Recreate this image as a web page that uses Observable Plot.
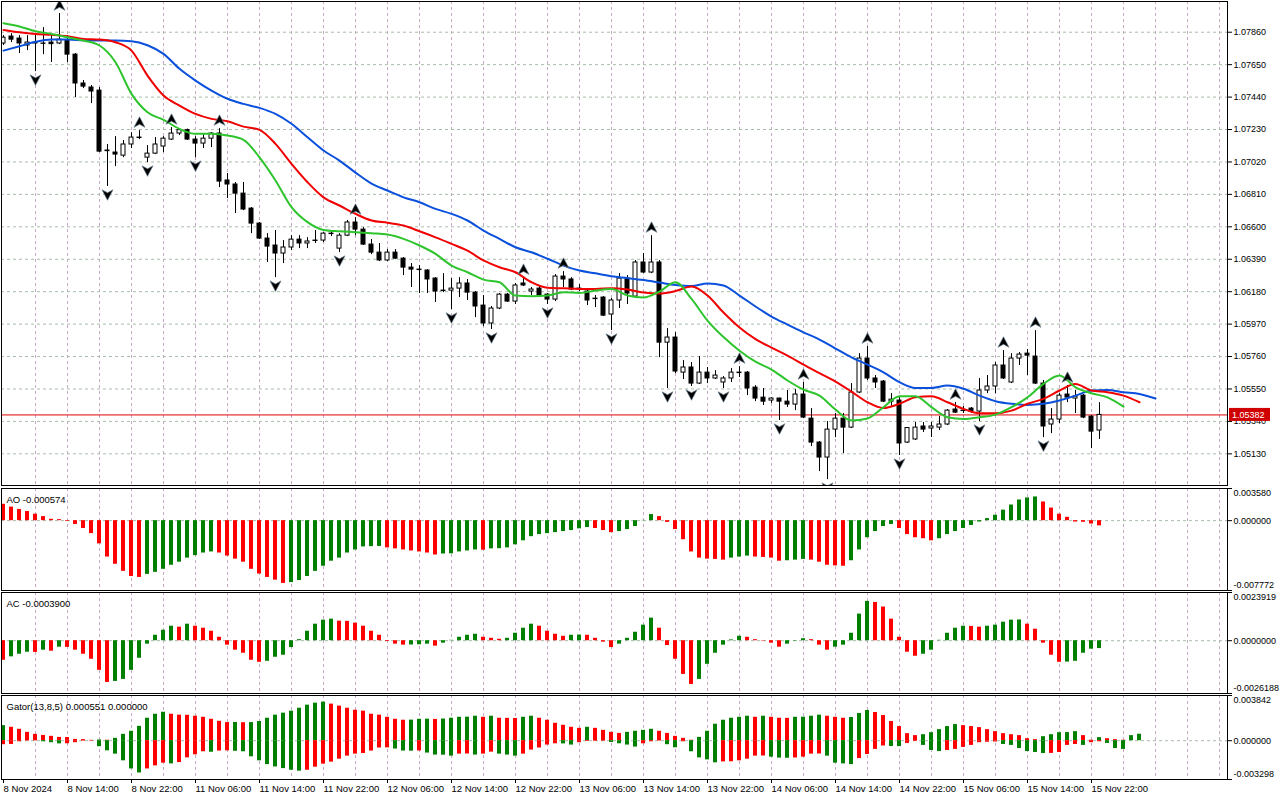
<!DOCTYPE html>
<html><head><meta charset="utf-8">
<script src="https://cdn.jsdelivr.net/npm/d3@7"></script>
<script src="https://cdn.jsdelivr.net/npm/@observablehq/plot@0.6"></script>
<style>
html,body{margin:0;padding:0;background:#fff;}
#chart{position:relative;width:1280px;height:800px;overflow:hidden;background:#fff;}
#chart svg{position:absolute;left:0;}
</style></head><body><div id="chart"></div>
<script>
// ---- EURUSD H1, bars 8 Nov 2024 06:00 .. 15 Nov 2024 23:00 ----
const open = [1.07787,1.07832,1.07819,1.07774,1.07793,1.07787,1.07793,1.07787,1.07806,1.07715,
1.07528,1.07502,1.07482,1.07094,1.07081,1.07061,1.07133,1.07175,1.07048,1.07074,
1.07120,1.07165,1.07204,1.07226,1.07165,1.07139,1.07171,1.07204,1.06900,1.06874,
1.06815,1.06718,1.06621,1.06524,1.06479,1.06427,1.06466,1.06517,1.06492,1.06508,
1.06511,1.06553,1.06459,1.06543,1.06628,1.06582,1.06485,1.06433,1.06382,1.06433,
1.06394,1.06336,1.06323,1.06317,1.06265,1.06187,1.06187,1.06200,1.06233,1.06174,
1.06090,1.05974,1.06071,1.06161,1.06116,1.06233,1.06181,1.06200,1.06161,1.06129,
1.06278,1.06259,1.06200,1.06181,1.06135,1.06142,1.06032,1.06123,1.06265,1.06148,
1.06369,1.06304,1.06369,1.05850,1.05883,1.05656,1.05689,1.05585,1.05656,1.05618,
1.05592,1.05618,1.05653,1.05656,1.05559,1.05494,1.05475,1.05488,1.05468,1.05449,
1.05514,1.05358,1.05203,1.05106,1.05287,1.05358,1.05300,1.05527,1.05747,1.05618,
1.05598,1.05468,1.05475,1.05203,1.05223,1.05307,1.05294,1.05300,1.05320,1.05417,
1.05410,1.05423,1.05404,1.05540,1.05566,1.05702,1.05592,1.05747,1.05779,1.05760,
1.05585,1.05320,1.05352,1.05514,1.05488,1.05507,1.05371,1.05281];
const high = [1.07838,1.07851,1.07838,1.07838,1.07851,1.07890,1.07838,1.07981,1.07838,1.07722,
1.07547,1.07515,1.07502,1.07133,1.07184,1.07159,1.07210,1.07223,1.07126,1.07178,
1.07184,1.07243,1.07236,1.07233,1.07184,1.07204,1.07210,1.07236,1.06945,1.06887,
1.06887,1.06725,1.06628,1.06556,1.06576,1.06511,1.06543,1.06543,1.06530,1.06576,
1.06563,1.06569,1.06556,1.06641,1.06660,1.06595,1.06518,1.06492,1.06453,1.06453,
1.06401,1.06362,1.06349,1.06323,1.06271,1.06297,1.06265,1.06271,1.06259,1.06181,
1.06155,1.06084,1.06168,1.06168,1.06233,1.06271,1.06207,1.06213,1.06168,1.06291,
1.06310,1.06271,1.06226,1.06200,1.06155,1.06148,1.06136,1.06297,1.06284,1.06382,
1.06427,1.06543,1.06382,1.05941,1.05915,1.05734,1.05721,1.05760,1.05689,1.05669,
1.05630,1.05682,1.05695,1.05663,1.05572,1.05553,1.05494,1.05491,1.05540,1.05546,
1.05592,1.05423,1.05210,1.05339,1.05391,1.05391,1.05585,1.05779,1.05825,1.05637,
1.05605,1.05520,1.05494,1.05300,1.05333,1.05333,1.05333,1.05372,1.05417,1.05462,
1.05436,1.05430,1.05618,1.05637,1.05721,1.05799,1.05779,1.05786,1.05805,1.05928,
1.05605,1.05423,1.05520,1.05572,1.05540,1.05514,1.05378,1.05462];
const low = [1.07774,1.07793,1.07722,1.07741,1.07605,1.07715,1.07664,1.07780,1.07664,1.07437,
1.07495,1.07398,1.07081,1.06861,1.06990,1.07048,1.07107,1.07165,1.07016,1.07068,
1.07081,1.07159,1.07191,1.07159,1.07048,1.07107,1.07113,1.06854,1.06783,1.06686,
1.06705,1.06556,1.06518,1.06369,1.06271,1.06362,1.06446,1.06459,1.06459,1.06492,
1.06498,1.06537,1.06433,1.06537,1.06543,1.06479,1.06420,1.06375,1.06375,1.06388,
1.06284,1.06207,1.06168,1.06168,1.06110,1.06174,1.06064,1.06142,1.06123,1.06012,
1.05954,1.05935,1.06064,1.06110,1.06097,1.06213,1.06155,1.06142,1.06097,1.06116,
1.06207,1.06187,1.06181,1.06090,1.06077,1.06019,1.05928,1.06071,1.06097,1.06142,
1.06297,1.06297,1.05753,1.05553,1.05650,1.05611,1.05566,1.05579,1.05585,1.05611,
1.05553,1.05592,1.05624,1.05507,1.05468,1.05443,1.05456,1.05346,1.05430,1.05410,
1.05358,1.05177,1.05015,1.04963,1.05235,1.05132,1.05294,1.05520,1.05605,1.05553,
1.05462,1.05430,1.05119,1.05197,1.05216,1.05268,1.05236,1.05281,1.05313,1.05391,
1.05391,1.05391,1.05339,1.05520,1.05520,1.05611,1.05585,1.05702,1.05637,1.05579,
1.05235,1.05261,1.05326,1.05462,1.05391,1.05358,1.05164,1.05223];
const close = [1.07825,1.07812,1.07787,1.07793,1.07787,1.07785,1.07783,1.07812,1.07715,1.07528,
1.07508,1.07476,1.07087,1.07090,1.07068,1.07133,1.07178,1.07178,1.07074,1.07133,
1.07171,1.07204,1.07226,1.07165,1.07139,1.07171,1.07204,1.06893,1.06874,1.06815,
1.06712,1.06621,1.06524,1.06472,1.06427,1.06466,1.06517,1.06492,1.06505,1.06511,
1.06556,1.06556,1.06543,1.06628,1.06582,1.06485,1.06433,1.06382,1.06433,1.06394,
1.06336,1.06323,1.06320,1.06259,1.06181,1.06184,1.06200,1.06233,1.06174,1.06084,
1.05974,1.06071,1.06161,1.06116,1.06220,1.06220,1.06194,1.06155,1.06129,1.06278,
1.06259,1.06194,1.06197,1.06123,1.06132,1.06025,1.06123,1.06265,1.06168,1.06369,
1.06304,1.06369,1.05850,1.05883,1.05663,1.05689,1.05585,1.05656,1.05618,1.05637,
1.05618,1.05656,1.05656,1.05553,1.05488,1.05468,1.05488,1.05468,1.05449,1.05514,
1.05365,1.05203,1.05106,1.05287,1.05358,1.05300,1.05527,1.05747,1.05618,1.05592,
1.05468,1.05481,1.05197,1.05297,1.05300,1.05287,1.05307,1.05320,1.05410,1.05397,
1.05407,1.05404,1.05540,1.05566,1.05702,1.05618,1.05747,1.05773,1.05766,1.05585,
1.05307,1.05352,1.05507,1.05494,1.05501,1.05365,1.05274,1.05382];

// Alligator lines, read every 2nd bar (jaw shifted 8, teeth 5, lips 3 bars ahead)
const jaw = [1.07741,1.07769,1.07798,1.07813,1.07813,1.07808,1.07806,1.07806,1.07802,1.07776,
1.07720,1.07623,1.07547,1.07482,1.07429,1.07396,1.07370,1.07331,1.07267,1.07180,
1.07094,1.07029,1.06951,1.06880,1.06835,1.06791,1.06759,1.06716,1.06684,1.06641,
1.06576,1.06522,1.06468,1.06435,1.06393,1.06349,1.06317,1.06299,1.06280,1.06268,
1.06255,1.06239,1.06223,1.06216,1.06233,1.06220,1.06155,1.06084,1.06019,1.05967,
1.05917,1.05870,1.05812,1.05755,1.05708,1.05658,1.05594,1.05557,1.05557,1.05572,
1.05551,1.05507,1.05471,1.05454,1.05447,1.05454,1.05475,1.05507,1.05540,1.05544,
1.05529,1.05518,1.05488];
const teeth = [1.07875,1.07860,1.07849,1.07843,1.07834,1.07817,1.07813,1.07795,1.07741,1.07579,
1.07450,1.07385,1.07331,1.07299,1.07283,1.07249,1.07228,1.07137,1.07008,1.06889,
1.06791,1.06738,1.06684,1.06641,1.06626,1.06608,1.06571,1.06532,1.06490,1.06446,
1.06382,1.06338,1.06306,1.06241,1.06205,1.06202,1.06198,1.06198,1.06203,1.06194,
1.06174,1.06168,1.06184,1.06213,1.06155,1.06045,1.05948,1.05873,1.05818,1.05766,
1.05708,1.05653,1.05598,1.05533,1.05464,1.05427,1.05454,1.05496,1.05503,1.05464,
1.05421,1.05393,1.05393,1.05410,1.05454,1.05486,1.05540,1.05583,1.05540,1.05529,
1.05507,1.05464];
const lips = [1.07918,1.07897,1.07866,1.07849,1.07827,1.07806,1.07774,1.07666,1.07461,1.07342,
1.07293,1.07234,1.07202,1.07202,1.07191,1.07163,1.07050,1.06900,1.06727,1.06630,
1.06580,1.06571,1.06565,1.06558,1.06550,1.06522,1.06479,1.06425,1.06349,1.06306,
1.06258,1.06241,1.06155,1.06150,1.06155,1.06176,1.06172,1.06187,1.06197,1.06155,
1.06142,1.06181,1.06241,1.06133,1.05993,1.05886,1.05798,1.05727,1.05676,1.05605,
1.05546,1.05507,1.05417,1.05346,1.05359,1.05432,1.05503,1.05503,1.05432,1.05367,
1.05356,1.05367,1.05384,1.05432,1.05496,1.05583,1.05637,1.05561,1.05522,1.05496,
1.05436];

// Fractals (bar numbers)
const fractalUp = [7,17,21,27,44,65,70,81,92,100,108,119,125,129,133];
const fractalDown = [4,13,18,24,34,42,56,61,68,76,83,86,90,97,103,112,122,130];

// Awesome Oscillator
const ao = [0.00182,0.00151,0.00125,0.00102,0.00072,0.00045,0.00015,0.00011,-0.00008,-0.00042,
-0.00087,-0.00144,-0.00258,-0.00405,-0.00485,-0.00564,-0.00621,-0.00632,-0.00598,-0.00575,
-0.00541,-0.00496,-0.00462,-0.00417,-0.00389,-0.00360,-0.00348,-0.00360,-0.00394,-0.00428,
-0.00462,-0.00541,-0.00594,-0.00632,-0.00662,-0.00698,-0.00689,-0.00666,-0.00621,-0.00564,
-0.00507,-0.00451,-0.00417,-0.00360,-0.00326,-0.00292,-0.00289,-0.00287,-0.00303,-0.00314,
-0.00326,-0.00337,-0.00348,-0.00360,-0.00382,-0.00371,-0.00369,-0.00348,-0.00337,-0.00326,
-0.00329,-0.00314,-0.00312,-0.00303,-0.00269,-0.00224,-0.00178,-0.00155,-0.00144,-0.00133,
-0.00121,-0.00110,-0.00091,-0.00076,-0.00087,-0.00110,-0.00133,-0.00121,-0.00099,-0.00065,
0.00003,0.00068,0.00045,-0.00019,-0.00099,-0.00212,-0.00348,-0.00417,-0.00428,-0.00431,
-0.00439,-0.00417,-0.00405,-0.00394,-0.00405,-0.00409,-0.00417,-0.00451,-0.00446,-0.00439,
-0.00431,-0.00439,-0.00462,-0.00496,-0.00503,-0.00507,-0.00446,-0.00326,-0.00190,-0.00121,
-0.00065,-0.00042,-0.00087,-0.00155,-0.00190,-0.00201,-0.00224,-0.00201,-0.00155,-0.00121,
-0.00087,-0.00053,-0.00015,0.00023,0.00060,0.00117,0.00174,0.00230,0.00253,0.00264,
0.00208,0.00140,0.00072,0.00037,-0.00015,-0.00018,-0.00037,-0.000574];

// Accelerator Oscillator
const ac = [-0.00097,-0.00080,-0.00067,-0.00057,-0.00058,-0.00047,-0.00052,-0.00032,-0.00033,-0.00047,
-0.00067,-0.00092,-0.00147,-0.00207,-0.00202,-0.00192,-0.00147,-0.00087,-0.00017,0.00027,
0.00052,0.00072,0.00067,0.00082,0.00072,0.00062,0.00047,0.00017,-0.00022,-0.00047,
-0.00062,-0.00097,-0.00107,-0.00102,-0.00082,-0.00072,-0.00034,0.00005,0.00047,0.00082,
0.00102,0.00107,0.00097,0.00096,0.00087,0.00072,0.00047,0.00027,-0.00004,-0.00017,
-0.00022,-0.00021,-0.00020,-0.00017,-0.00027,-0.00012,0.00002,0.00017,0.00027,0.00032,
0.00017,0.00012,0.00007,0.00012,0.00037,0.00062,0.00082,0.00072,0.00047,0.00032,
0.00022,0.00027,0.00028,0.00027,0.00012,-0.00007,-0.00034,-0.00017,0.00012,0.00042,
0.00077,0.00112,0.00062,-0.00024,-0.00092,-0.00167,-0.00217,-0.00192,-0.00117,-0.00062,
-0.00022,0.00004,0.00022,0.00017,0.00005,-0.00002,-0.00012,-0.00032,-0.00017,-0.00002,
0.00010,0.00005,-0.00022,-0.00047,-0.00032,-0.00022,0.00037,0.00132,0.00195,0.00190,
0.00167,0.00107,0.00017,-0.00057,-0.00077,-0.00067,-0.00047,0.00002,0.00037,0.00062,
0.00072,0.00071,0.00067,0.00072,0.00077,0.00092,0.00102,0.00103,0.00082,0.00057,
-0.00012,-0.00072,-0.00107,-0.00106,-0.00102,-0.00062,-0.00042,-0.00039];

// Gator Oscillator (upper = |jaw-teeth|, lower = -|teeth-lips|)
const gatorUp = [0.00128,0.00114,0.00097,0.00071,0.00054,0.00045,0.00037,0.00028,0.00027,0.00011,
0.00009,0.00003,0.00006,0.00004,0.00020,0.00054,0.00080,0.00122,0.00191,0.00225,
0.00242,0.00225,0.00217,0.00216,0.00208,0.00199,0.00182,0.00165,0.00154,0.00155,
0.00153,0.00154,0.00163,0.00191,0.00217,0.00234,0.00251,0.00276,0.00302,0.00319,
0.00328,0.00311,0.00294,0.00276,0.00259,0.00251,0.00225,0.00217,0.00199,0.00182,
0.00174,0.00175,0.00182,0.00183,0.00181,0.00184,0.00191,0.00199,0.00200,0.00208,
0.00199,0.00208,0.00191,0.00190,0.00189,0.00199,0.00208,0.00191,0.00174,0.00148,
0.00131,0.00114,0.00105,0.00114,0.00105,0.00088,0.00071,0.00062,0.00071,0.00080,
0.00088,0.00097,0.00080,0.00062,0.00037,0.00020,0.00004,0.00028,0.00080,0.00140,
0.00174,0.00191,0.00199,0.00208,0.00199,0.00208,0.00199,0.00191,0.00190,0.00199,
0.00200,0.00208,0.00217,0.00208,0.00199,0.00191,0.00197,0.00231,0.00257,0.00240,
0.00214,0.00163,0.00120,0.00060,0.00043,0.00051,0.00068,0.00094,0.00120,0.00137,
0.00128,0.00120,0.00111,0.00094,0.00077,0.00060,0.00051,0.00043,0.00017,0.00009,
0.00034,0.00051,0.00068,0.00069,0.00077,0.00043,0.00004,0.00026,0.00017,0.00009,
0.00004,0.00043,0.000551];
const gatorDown = [-0.00034,-0.00032,-0.00009,-0.00003,-0.00002,-0.00009,-0.00017,-0.00027,-0.00026,-0.00017,
-0.00004,-0.00003,-0.00051,-0.00086,-0.00114,-0.00171,-0.00240,-0.00274,-0.00240,-0.00214,
-0.00191,-0.00197,-0.00186,-0.00146,-0.00120,-0.00094,-0.00098,-0.00088,-0.00086,-0.00090,
-0.00094,-0.00137,-0.00171,-0.00203,-0.00223,-0.00237,-0.00251,-0.00259,-0.00251,-0.00225,
-0.00199,-0.00182,-0.00157,-0.00131,-0.00114,-0.00109,-0.00088,-0.00062,-0.00061,-0.00071,
-0.00088,-0.00089,-0.00087,-0.00105,-0.00122,-0.00123,-0.00131,-0.00114,-0.00113,-0.00122,
-0.00114,-0.00097,-0.00114,-0.00122,-0.00131,-0.00114,-0.00080,-0.00062,-0.00037,-0.00026,
-0.00027,-0.00037,-0.00017,-0.00006,-0.00005,-0.00004,-0.00015,-0.00026,-0.00037,-0.00054,
-0.00026,-0.00009,-0.00003,-0.00034,-0.00060,-0.00009,-0.00094,-0.00146,-0.00163,-0.00188,
-0.00180,-0.00179,-0.00171,-0.00157,-0.00131,-0.00130,-0.00140,-0.00148,-0.00149,-0.00147,
-0.00140,-0.00114,-0.00113,-0.00131,-0.00191,-0.00197,-0.00203,-0.00152,-0.00117,-0.00074,
-0.00045,-0.00049,-0.00050,-0.00023,-0.00006,-0.00040,-0.00083,-0.00092,-0.00083,-0.00074,
-0.00057,-0.00040,-0.00017,-0.00013,-0.00011,-0.00032,-0.00040,-0.00066,-0.00092,-0.00100,
-0.00109,-0.00108,-0.00100,-0.00040,-0.00032,-0.00040,-0.00017,-0.00009,-0.00023,-0.00066,
-0.00074];

// Axis ticks and labels
const priceTicks = [1.07860,1.07650,1.07440,1.07230,1.07020,1.06810,1.06600,1.06390,1.06180,1.05970,1.05760,1.05550,1.05340,1.05130];
const priceDomain = [1.04925, 1.08059];
const aoRange = [-0.007772, 0.003580];
const acRange = [-0.0026188, 0.0023919];
const gatorRange = [-0.003298, 0.003842];
const timeLabels = ["8 Nov 2024","8 Nov 14:00","8 Nov 22:00","11 Nov 06:00","11 Nov 14:00","11 Nov 22:00",
"12 Nov 06:00","12 Nov 14:00","12 Nov 22:00","13 Nov 06:00","13 Nov 14:00","13 Nov 22:00",
"14 Nov 06:00","14 Nov 14:00","14 Nov 22:00","15 Nov 06:00","15 Nov 14:00","15 Nov 22:00"];
const lastPrice = 1.05382;

// ---------------- drawing ----------------
const W = 1280, ML = 1, MR = 53;
const xDomain = [-0.25, 153];
const FONT = "'Liberation Sans', Arial, sans-serif";
const HGRID = "#a9bca9", VGRID = "#c6a9c6";
const GREEN = "#008000", RED = "#ff0000";
const dash = "3,3";
const gridBars = d3.range(4, 153, 4);
const labelBars = timeLabels.map((_, k) => k * 8);

const bars = close.map((c, i) => ({i, o: open[i], h: high[i], l: low[i], c}));
const series = (arr, step) => arr.map((v, k) => ({i: k * step, v}));

function colored(vals, first, cmp) {
  let cur = first;
  return vals.map((v, i) => {
    if (i > 0) { const d = cmp(v, vals[i - 1]); if (d > 0) cur = GREEN; else if (d < 0) cur = RED; }
    return {i, v, col: cur};
  });
}
const diff = (a, b) => a - b;
const absDiff = (a, b) => Math.abs(a) - Math.abs(b);

const arrowUp = {draw(ctx, size) { const s = Math.sqrt(size / Math.PI);
  ctx.moveTo(0, -s * 1.15); ctx.lineTo(s * 1.1, s * 0.95); ctx.lineTo(0, s * 0.35); ctx.lineTo(-s * 1.1, s * 0.95); ctx.closePath(); }};
const arrowDown = {draw(ctx, size) { const s = Math.sqrt(size / Math.PI);
  ctx.moveTo(0, s * 1.15); ctx.lineTo(s * 1.1, -s * 0.95); ctx.lineTo(0, -s * 0.35); ctx.lineTo(-s * 1.1, -s * 0.95); ctx.closePath(); }};

const root = document.getElementById("chart");
function place(svg, top) { svg.style.top = top + "px"; root.appendChild(svg); }

const vGrid = Plot.ruleX(gridBars, {stroke: VGRID, strokeDasharray: dash});

// Main price panel
const tag = (index, scales, values, dims) => {
  const y = scales.y(lastPrice);
  const x0 = dims.width - dims.marginRight + 2;
  const g = d3.create("svg:g");
  g.append("rect").attr("x", x0).attr("y", y - 6.5).attr("width", 41).attr("height", 13).attr("fill", "#d00000");
  g.append("text").attr("x", x0 + 3).attr("y", y).attr("dy", "0.35em").attr("fill", "white")
    .attr("text-anchor", "start").attr("font-size", 9).attr("font-family", FONT).text(lastPrice.toFixed(5));
  return g.node();
};

const mainPlot = Plot.plot({
  width: W, height: 487, marginLeft: ML, marginRight: MR, marginTop: 1, marginBottom: 2,
  x: {domain: xDomain, axis: null},
  y: {domain: priceDomain, axis: null},
  style: {fontFamily: FONT, fontSize: "9px", background: "white", overflow: "visible"},
  marks: [
    vGrid,
    Plot.ruleY(priceTicks, {stroke: HGRID, strokeDasharray: dash}),
    Plot.ruleY([lastPrice], {stroke: "#e00000"}),
    Plot.ruleX(bars, {x: "i", y1: "l", y2: "h", stroke: "black", clip: true}),
    Plot.rect(bars, {x1: d => d.i - 0.25, x2: d => d.i + 0.25, y1: "o", y2: "c",
      fill: d => d.c >= d.o ? "white" : "black", stroke: "black", strokeWidth: 1, clip: true}),
    Plot.line(series(jaw, 2), {x: "i", y: "v", stroke: "#0a50dc", strokeWidth: 2, curve: "monotone-x"}),
    Plot.line(series(teeth, 2), {x: "i", y: "v", stroke: "#f00000", strokeWidth: 2, curve: "monotone-x"}),
    Plot.line(series(lips, 2), {x: "i", y: "v", stroke: "#2dc42d", strokeWidth: 2, curve: "monotone-x"}),
    Plot.dot(fractalUp, {x: d => d, y: d => high[d], dy: -8, symbol: arrowUp, r: 5, fill: "black", stroke: "#6a7f8f", strokeWidth: 0.7, clip: true}),
    Plot.dot(fractalDown, {x: d => d, y: d => low[d], dy: 8, symbol: arrowDown, r: 5, fill: "black", stroke: "#6a7f8f", strokeWidth: 0.7, clip: true}),
    Plot.axisY(priceTicks, {anchor: "right", label: null, tickSize: 4, tickPadding: 2, tickFormat: d => d.toFixed(5), fontSize: 9, fill: "black", stroke: "black"}),
    Plot.frame({stroke: "black"}),
    tag
  ]
});
place(mainPlot, 0);

// helper for oscillator panels
function panel({data, range, top, height, mb, label, fmt, extra = []}) {
  const [lo, hi] = range;
  const p = Plot.plot({
    width: W, height, marginLeft: ML, marginRight: MR, marginTop: 1, marginBottom: mb,
    x: {domain: xDomain, axis: null},
    y: {domain: [lo, hi], axis: null},
    color: {type: "identity"},
    style: {fontFamily: FONT, fontSize: "9.5px", background: "white", overflow: "visible"},
    marks: [
      vGrid,
      Plot.ruleY([0], {stroke: HGRID, strokeDasharray: dash}),
      ...data.map(dd => Plot.rect(dd, {x1: d => d.i - 0.25, x2: d => d.i + 0.25, y1: () => 0, y2: "v", fill: "col"})),
      Plot.axisY([hi, 0, lo], {anchor: "right", label: null, tickSize: 4, tickFormat: () => "", stroke: "black"}),
      Plot.text([hi], {x: () => xDomain[1], y: d => d, text: fmt, textAnchor: "start", dx: 6, dy: 5, fontSize: 9}),
      Plot.text([0], {x: () => xDomain[1], y: d => d, text: fmt, textAnchor: "start", dx: 6, fontSize: 9}),
      Plot.text([lo], {x: () => xDomain[1], y: d => d, text: fmt, textAnchor: "start", dx: 6, dy: -5, fontSize: 9}),
      Plot.text([label], {frameAnchor: "top-left", dx: 5, dy: 8, textAnchor: "start", fill: "black"}),
      Plot.frame({stroke: "black"}),
      ...extra
    ]
  });
  place(p, top);
}

panel({
  data: [colored(ao, RED, diff)], range: aoRange, top: 487, height: 104, mb: 1,
  label: `AO ${ao[ao.length - 1].toFixed(6)}`, fmt: d => d.toFixed(6)
});
panel({
  data: [colored(ac, RED, diff)], range: acRange, top: 591, height: 103, mb: 1,
  label: `AC ${ac[ac.length - 1].toFixed(7)}`, fmt: d => d.toFixed(7)
});
panel({
  data: [colored(gatorUp, GREEN, diff), colored(gatorDown, RED, absDiff)],
  range: gatorRange, top: 694, height: 106, mb: 21,
  label: `Gator(13,8,5) ${gatorUp[gatorUp.length - 1].toFixed(6)} ${(0).toFixed(6)}`, fmt: d => d.toFixed(6),
  extra: [Plot.axisX(labelBars, {anchor: "bottom", label: null, tickSize: 4, tickPadding: 2,
    tickFormat: i => timeLabels[i / 8], textAnchor: "start", fontSize: 9.5, stroke: "black", fill: "black"})]
});
</script></body></html>
